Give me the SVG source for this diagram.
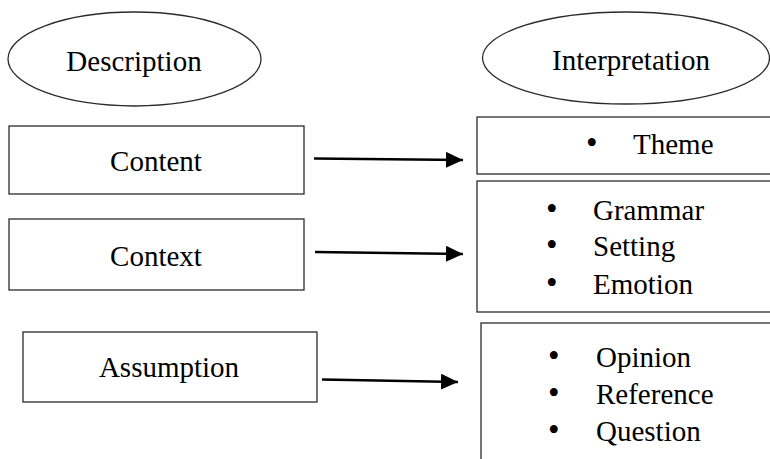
<svg xmlns="http://www.w3.org/2000/svg" width="770" height="459" viewBox="0 0 770 459">
<style>
.bg{fill:#ffffff}
.shape{fill:#ffffff;stroke:#2b2b2b;stroke-width:1.3}
.t{font-family:"Liberation Serif","Times New Roman",serif;font-size:29px;fill:#000}
.c{text-anchor:middle}
.b{font-size:33px}
.conn{stroke:#000;stroke-width:2.6;fill:none}
</style>
<defs>
<marker id="ah" markerUnits="userSpaceOnUse" markerWidth="18" markerHeight="16" refX="17" refY="8" orient="auto">
<path d="M0,0 L17,8 L0,16 z" fill="#000"/>
</marker>
</defs>
<rect class="bg" x="0" y="0" width="770" height="459"/>
<g id="description">
<ellipse class="shape" cx="134.5" cy="59" rx="126.5" ry="47"/>
<text class="t c" x="134" y="71">Description</text>
</g>
<g id="interpretation">
<ellipse class="shape" cx="626" cy="58" rx="143.5" ry="46"/>
<text class="t c" x="631" y="70">Interpretation</text>
</g>
<g id="content">
<rect class="shape" x="9" y="126" width="295" height="68"/>
<text class="t c" x="156" y="171">Content</text>
</g>
<g id="context">
<rect class="shape" x="9" y="219" width="295" height="71"/>
<text class="t c" x="156" y="266">Context</text>
</g>
<g id="assumption">
<rect class="shape" x="23" y="332" width="294" height="70"/>
<text class="t c" x="169" y="377">Assumption</text>
</g>
<g id="theme-box">
<rect class="shape" x="477" y="117" width="300" height="57"/>
<text class="t" y="154"><tspan class="b" x="586">•</tspan><tspan x="633">Theme</tspan></text>
</g>
<g id="context-box">
<rect class="shape" x="477" y="181" width="300" height="131"/>
<text class="t" y="220"><tspan class="b" x="546">•</tspan><tspan x="593">Grammar</tspan></text>
<text class="t" y="256"><tspan class="b" x="546">•</tspan><tspan x="593">Setting</tspan></text>
<text class="t" y="294"><tspan class="b" x="546">•</tspan><tspan x="593">Emotion</tspan></text>
</g>
<g id="assumption-box">
<rect class="shape" x="481" y="323" width="300" height="150"/>
<text class="t" y="367"><tspan class="b" x="548">•</tspan><tspan x="596">Opinion</tspan></text>
<text class="t" y="404"><tspan class="b" x="548">•</tspan><tspan x="596">Reference</tspan></text>
<text class="t" y="441"><tspan class="b" x="548">•</tspan><tspan x="596">Question</tspan></text>
</g>
<g id="connectors">
<line class="conn" x1="314" y1="158.5" x2="463" y2="160" marker-end="url(#ah)"/>
<line class="conn" x1="315" y1="252" x2="463" y2="254" marker-end="url(#ah)"/>
<line class="conn" x1="322" y1="379.5" x2="458" y2="382" marker-end="url(#ah)"/>
</g>
</svg>
